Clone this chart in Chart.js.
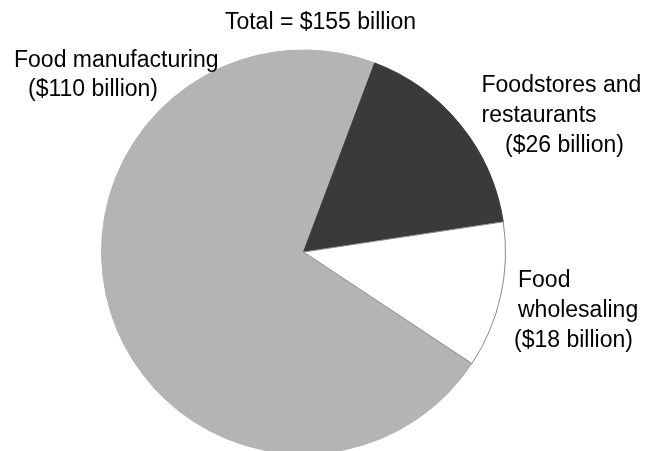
<!DOCTYPE html>
<html>
<head>
<meta charset="utf-8">
<script src="https://cdn.jsdelivr.net/npm/chart.js@4/dist/chart.umd.min.js"></script>
<style>
  html, body { margin: 0; padding: 0; background: #ffffff; overflow: hidden; }
  #wrap { position: relative; width: 658px; height: 456px; }
</style>
</head>
<body>
<div id="wrap"><canvas id="pie" width="658" height="456"></canvas></div>
<script>
// Food industry segments, billions of dollars
const segments = ["Food manufacturing", "Foodstores and restaurants", "Food wholesaling"];
const valuesBillion = [110, 26, 18];
const totalBillion = 155;
const sliceColors = ["#b4b4b4", "#3a3a3a", "#ffffff"];
const sliceBorders = ["#b4b4b4", "#3a3a3a", "#8a8a8a"];

// Label lines per segment (last line carries the value)
const labelLines = [
  ["Food manufacturing"],
  ["Foodstores and", "restaurants"],
  ["Food", "wholesaling"]
];
// Left edge of each label line and baseline of first line
const labelPlacement = [
  { xs: [14, 28], y: 66.5 },
  { xs: [481.5, 481.5, 505], y: 92.3 },
  { xs: [518, 518, 514], y: 287.3 }
];
const lineStep = 29.7;
const FONT = '23px "Liberation Sans", Arial, sans-serif';

const labelsPlugin = {
  id: 'pieLabels',
  afterDraw(chart) {
    const ctx = chart.ctx;
    ctx.save();
    ctx.font = FONT;
    ctx.fillStyle = '#000000';
    ctx.textAlign = 'left';
    ctx.textBaseline = 'alphabetic';
    // overall total above the pie
    ctx.textAlign = 'center';
    ctx.fillText('Total = $' + totalBillion + ' billion', 320.5, 29.3);
    ctx.textAlign = 'left';
    segments.forEach((name, i) => {
      const lines = labelLines[i].concat(['($' + valuesBillion[i] + ' billion)']);
      const p = labelPlacement[i];
      lines.forEach((txt, j) => {
        ctx.fillText(txt, p.xs[j], p.y + j * lineStep);
      });
    });
    ctx.restore();
  }
};

new Chart(document.getElementById('pie'), {
  type: 'pie',
  data: {
    labels: segments,
    datasets: [{
      data: valuesBillion,
      backgroundColor: sliceColors,
      borderColor: sliceBorders,
      borderWidth: 1,
      hoverOffset: 0,
      offset: 0
    }]
  },
  options: {
    responsive: false,
    animation: false,
    events: [],
    rotation: 123.5,
    radius: 202,
    layout: { padding: { left: 101.5, right: 152.5, top: 50, bottom: 2 } },
    plugins: {
      legend: { display: false },
      tooltip: { enabled: false },
      title: { display: false }
    }
  },
  plugins: [labelsPlugin]
});
</script>
</body>
</html>
